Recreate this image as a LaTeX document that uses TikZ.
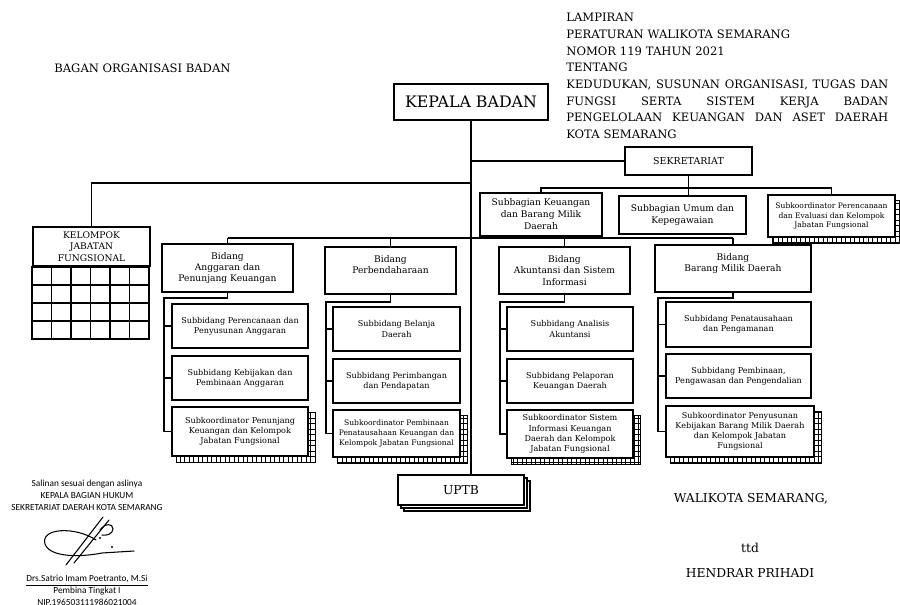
\documentclass[tikz,border=0pt]{standalone}
\usepackage{fontspec}
\setmainfont{DejaVu Serif}
\newfontfamily\calib{Carlito}
\usetikzlibrary{shadows,backgrounds}

\newcommand{\fkep}{\fontsize{9}{11}\selectfont}
\newcommand{\fhead}{\fontsize{6.6}{9.5}\selectfont}
\newcommand{\fsek}{\fontsize{5.4}{6.6}\selectfont}
\newcommand{\fbag}{\fontsize{5.2}{6.8}\selectfont}
\newcommand{\fbid}{\fontsize{5.2}{6.4}\selectfont}
\newcommand{\fsub}{\fontsize{4.6}{5.8}\selectfont}
\newcommand{\fkoor}{\fontsize{4.3}{5.5}\selectfont}
\newcommand{\fsig}{\calib\fontsize{5.3}{6.8}\selectfont}
\newcommand{\fwali}{\fontsize{7}{8.5}\selectfont}
\newcommand{\jline}[1]{{\spaceskip=0pt\xspaceskip=0pt\makebox[6.44cm][s]{#1}}}

\tikzset{
  box/.style={draw,fill=white,line width=0.9pt,align=center,inner sep=1pt},
  sz/.style 2 args={minimum width=#1*0.02cm,minimum height=#2*0.02cm},
  conn/.style={line width=0.8pt},
  sigline/.style={line width=0.6pt,line cap=round}
}

\newcommand{\gridshadow}[1]{%
  \begin{scope}[on background layer]
    \fill[white] ([shift={(5,6)}]#1.south west) rectangle ([shift={(7,6)}]#1.north east);
    \draw[line width=0.4pt,xstep=0.09cm,ystep=0.11cm] ([shift={(5,6)}]#1.south west) grid ([shift={(7,6)}]#1.north east);
    \draw[line width=0.6pt] ([shift={(5,6)}]#1.south west) rectangle ([shift={(7,6)}]#1.north east);
  \end{scope}}

\begin{document}
\begin{tikzpicture}[x=0.02cm,y=-0.02cm]
\useasboundingbox (0,0) rectangle (900,605);

\node[anchor=west,inner sep=0pt,font=\fhead] (judul) at (54,68) {BAGAN ORGANISASI BADAN};
\node[anchor=north west,inner sep=0pt,text width=6.44cm,align=left,font=\fhead] (lamp) at (566,13) {LAMPIRAN\\
PERATURAN WALIKOTA SEMARANG\\
NOMOR 119 TAHUN 2021\\
TENTANG\\
\jline{KEDUDUKAN, SUSUNAN ORGANISASI, TUGAS DAN}\\
\jline{FUNGSI SERTA SISTEM KERJA BADAN}\\
\jline{PENGELOLAAN KEUANGAN DAN ASET DAERAH}\\
KOTA SEMARANG};

\node[box,sz={154}{36},font=\fkep] (kepala) at (471,102) {KEPALA BADAN};
\node[box,sz={127}{28},font=\fsek] (sekr) at (688.5,161) {SEKRETARIAT};
\node[box,sz={122}{43},font=\fbag] (sbkeu) at (541,214.5) {Subbagian Keuangan\\dan Barang Milik\\Daerah};
\node[box,sz={127}{38},font=\fbag] (sbumum) at (682.5,215) {Subbagian Umum dan\\Kepegawaian};
\node[box,sz={127}{42},font=\fkoor] (sbrenc) at (831.5,216) {Subkoordinator Perencanaan\\dan Evaluasi dan Kelompok\\Jabatan Fungsional};
\gridshadow{sbrenc}

\node[box,sz={117}{39},font=\fbid] (kjf) at (91.5,246.5) {KELOMPOK\\JABATAN\\FUNGSIONAL};
\begin{scope}[shift={([yshift=-1.44cm]kjf.south west)}]
  \draw[line width=0.9pt,xstep=0.39cm,ystep=0.36cm] (0,0) grid (117,-72);
  \draw[line width=0.9pt] (0,0) rectangle (117,-72);
\end{scope}

\node[box,sz={131}{48},font=\fbid] (bang) at (227.5,268) {Bidang\\Anggaran dan\\Penunjang Keuangan};
\node[box,sz={131}{47},font=\fbid] (bper) at (390.5,270.5) {Bidang\\Perbendaharaan\\\mbox{}};
\node[box,sz={131}{47},font=\fbid] (bakun) at (564.5,270.5) {Bidang\\Akuntansi dan Sistem\\Informasi};
\node[box,sz={156}{47},font=\fbid] (bbmd) at (733,268.5) {Bidang\\Barang Milik Daerah\\\mbox{}};

\node[box,sz={136}{44},font=\fsub] (s11) at (240,326) {Subbidang Perencanaan dan\\Penyusunan Anggaran};
\node[box,sz={136}{44},font=\fsub] (s12) at (240,378) {Subbidang Kebijakan dan\\Pembinaan Anggaran};
\node[box,sz={136}{49},font=\fsub] (s13) at (240,431.5) {Subkoordinator Penunjang\\Keuangan dan Kelompok\\Jabatan Fungsional};
\gridshadow{s13}

\node[box,sz={127}{44},font=\fsub] (s21) at (396.5,329) {Subbidang Belanja\\Daerah};
\node[box,sz={127}{44},font=\fsub] (s22) at (396.5,381) {Subbidang Perimbangan\\dan Pendapatan};
\node[box,sz={127}{47},font=\fkoor] (s23) at (396.5,433.5) {Subkoordinator Pembinaan\\Penatausahaan Keuangan dan\\Kelompok Jabatan Fungsional};
\gridshadow{s23}

\node[box,sz={126}{44},font=\fsub] (s31) at (570,329) {Subbidang Analisis\\Akuntansi};
\node[box,sz={126}{44},font=\fsub] (s32) at (570,381) {Subbidang Pelaporan\\Keuangan Daerah};
\node[box,sz={126}{48},font=\fsub] (s33) at (570,434) {Subkoordinator Sistem\\Informasi Keuangan\\Daerah dan Kelompok\\Jabatan Fungsional};
\gridshadow{s33}

\node[box,sz={145}{45},font=\fsub] (s41) at (738.5,324.5) {Subbidang Penatausahaan\\dan Pengamanan};
\node[box,sz={145}{44},font=\fsub] (s42) at (738.5,376) {Subbidang Pembinaan,\\Pengawasan dan Pengendalian};
\node[box,sz={148}{51},font=\fsub] (s43) at (740,431.5) {Subkoordinator Penyusunan\\Kebijakan Barang Milik Daerah\\dan Kelompok Jabatan\\Fungsional};
\gridshadow{s43}

\node[box,sz={126}{30},font=\fwali,double copy shadow={shadow xshift=0.06cm,shadow yshift=-0.06cm,line width=0.9pt}] (uptb) at (461,490) {UPTB};

\coordinate (lvl1) at (0,183);
\coordinate (sekbus) at (0,188);
\coordinate (lvl2) at (0,238);
\coordinate (br1) at (164,298);
\coordinate (br2) at (326,302);
\coordinate (br3) at (500,302);
\coordinate (br4) at (658,298);

\draw[conn] (kepala.south) -- (kepala.south |- uptb.north);
\draw[conn] (kepala.south |- sekr.west) -- (sekr.west);
\draw[conn] (kepala.south |- lvl1) -| (kjf.north);
\draw[conn] (sekr.south) |- (sekbus -| sbkeu.north) -- (sbkeu.north);
\draw[conn] (sekr.south) |- (sekbus -| sbrenc.north) -- (sbrenc.north);
\draw[conn] (sekr.south) -- (sekr.south |- sbumum.north);

\draw[conn] (bang.north |- lvl2) -- (bbmd.north |- lvl2);
\draw[conn] (bang.north |- lvl2) -- (bang.north);
\draw[conn] (bper.north |- lvl2) -- (bper.north);
\draw[conn] (bakun.north |- lvl2) -- (bakun.north);
\draw[conn] (bbmd.north |- lvl2) -- (bbmd.north);

\draw[conn] (bang.south) |- (br1) |- (s13.west);
\draw[conn] (br1 |- s11.west) -- (s11.west);
\draw[conn] (br1 |- s12.west) -- (s12.west);
\draw[conn] (bper.south) |- (br2) |- (s23.west);
\draw[conn] (br2 |- s21.west) -- (s21.west);
\draw[conn] (br2 |- s22.west) -- (s22.west);
\draw[conn] (bakun.south) |- (br3) |- (s33.west);
\draw[conn] (br3 |- s31.west) -- (s31.west);
\draw[conn] (br3 |- s32.west) -- (s32.west);
\draw[conn] (bbmd.south) |- (br4) |- (s43.west);
\draw[conn] (br4 |- s41.west) -- (s41.west);
\draw[conn] (br4 |- s42.west) -- (s42.west);

\node[align=center,font=\fsig] (salinan) at (87,495) {Salinan sesuai dengan aslinya\\KEPALA BAGIAN HUKUM\\SEKRETARIAT DAERAH KOTA SEMARANG};
\draw[sigline] (96,540) .. controls (75,526) and (40,528) .. (45,544) .. controls (50,558) and (82,557) .. (102,553) -- (134,551);
\draw[sigline] (103,517) -- (66,565);
\draw[sigline] (109,520) -- (74,563);
\draw[sigline] (100,530) .. controls (105,523) and (113,523) .. (113,529) .. controls (113,534) and (106,536) .. (102,535);
\fill (100,538) circle (0.6pt);
\fill (112,547) circle (0.6pt);
\node[align=center,font=\fsig] (pejabat) at (87,590) {\underline{Drs.Satrio Imam Poetranto, M.Si}\\Pembina Tingkat I\\NIP.196503111986021004};

\node[font=\fwali] (wali) at (751,499) {WALIKOTA SEMARANG,};
\node[font=\fwali] (ttd) at (750,548) {ttd};
\node[font=\fwali] (hendrar) at (750,573) {HENDRAR PRIHADI};
\end{tikzpicture}
\end{document}
